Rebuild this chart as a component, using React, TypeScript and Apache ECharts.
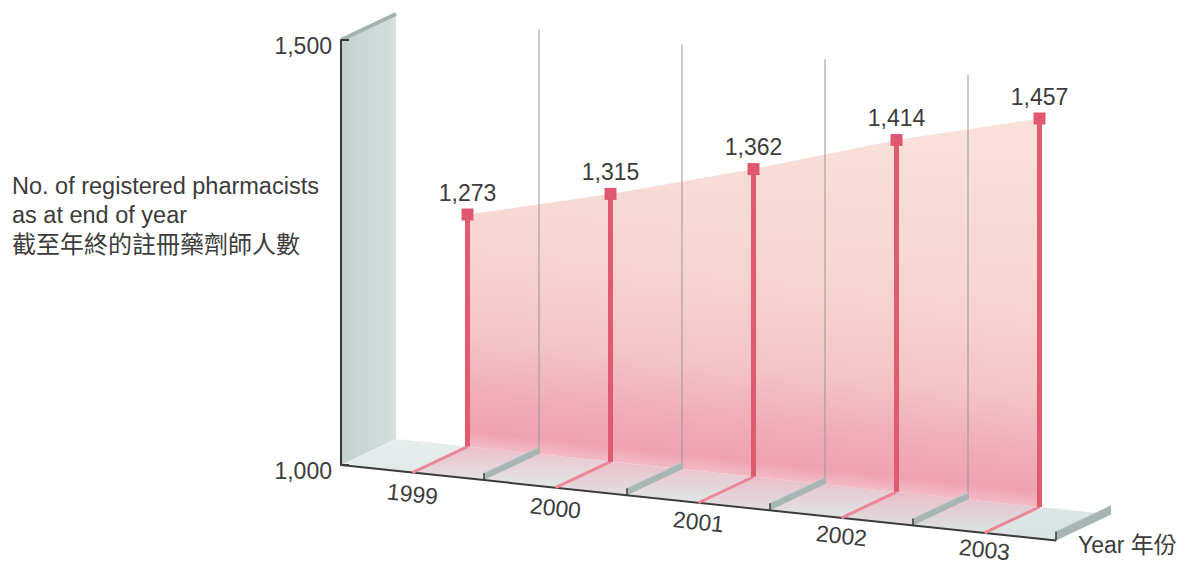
import React, { useEffect, useRef } from "react";
import * as echarts from "echarts";

// Registered pharmacists at the end of each year
const years = ["1999", "2000", "2001", "2002", "2003"];
const pharmacists = [1273, 1315, 1362, 1414, 1457];
const valueMin = 1000;
const valueMax = 1500;
const valueStep = 500;
const titleLines = ["No. of registered pharmacists", "as at end of year", "截至年終的註冊藥劑師人數"];
const titleSizes = [23.5, 23.5, 24];
const xAxisName = "Year 年份";

// Oblique projection: the floor runs downhill to the right and the back plane
// sits one "depth" step up and to the right of the front edge.
const SLOPE = 0.1056;
const DEPTH = [55, -26];

const LATIN = '"Liberation Sans", Arial, Helvetica, sans-serif';
const MIXED = '"Liberation Sans", Arial, "Noto Sans CJK TC", sans-serif';
const TEXT = "#3c3c3c";

const fmt = (n: number) => n.toLocaleString("en-US");

function projector(params: any, api: any) {
  const cs = params.coordSys;
  const L = cs.x;
  const shear = (x: number, y: number) => [x, y + SLOPE * (x - L)];
  const toBack = (p: number[]) => [p[0] + DEPTH[0], p[1] + DEPTH[1]];
  const front = (i: number, v: number) => {
    const c = api.coord([i, v]);
    return shear(c[0], c[1]);
  };
  const back = (i: number, v: number) => toBack(front(i, v));
  return { L, R: cs.x + cs.width, T: cs.y, B: cs.y + cs.height, shear, toBack, front, back };
}

const seg = (a: number[], b: number[], stroke: string, lineWidth: number) => ({
  type: "line",
  shape: { x1: a[0], y1: a[1], x2: b[0], y2: b[1] },
  style: { stroke, lineWidth },
});

const poly = (points: number[][], style: any) => ({ type: "polygon", shape: { points }, style });

function renderScene(params: any, api: any) {
  const { L, R, T, B, shear, toBack, front, back } = projector(params, api);
  const n = years.length;
  const kids: any[] = [];

  // left side wall
  const wTop = [L, T];
  const wBot = [L, B];
  kids.push(
    poly([wTop, toBack(wTop), toBack(wBot), wBot], {
      fill: new echarts.graphic.LinearGradient(0, 0, 1, 0, [
        { offset: 0, color: "#c2d1d0" },
        { offset: 1, color: "#d4dfde" },
      ]),
    })
  );
  kids.push(seg(wTop, toBack(wTop), "#a2b2b1", 4));

  // floor
  const fL = [L, B];
  const fR = shear(R, B);
  kids.push(
    poly([fL, fR, toBack(fR), toBack(fL)], {
      fill: new echarts.graphic.LinearGradient(0, 0, 0, 1, [
        { offset: 0, color: "#e6eded" },
        { offset: 1, color: "#d9e3e3" },
      ]),
    })
  );

  // pink glow on the floor beneath the panels
  for (let i = 0; i < n - 1; i++) {
    const a = front(i, valueMin);
    const b = front(i + 1, valueMin);
    kids.push(
      poly([toBack(a), toBack(b), b, a], {
        fill: new echarts.graphic.LinearGradient(0, 0, 0, 1, [
          { offset: 0, color: "rgba(240,160,178,0.6)" },
          { offset: 1, color: "rgba(240,160,178,0)" },
        ]),
      })
    );
  }

  // pink area on the back plane, shaded towards the floor
  const tops = pharmacists.map((v, i) => back(i, v));
  const b0 = back(0, valueMin);
  const bn = back(n - 1, valueMin);
  const xm = (b0[0] + bn[0]) / 2;
  const yb = b0[1] + SLOPE * (xm - b0[0]);
  const k = 380;
  kids.push(
    poly([...tops, bn, b0], {
      fill: new echarts.graphic.LinearGradient(
        xm + SLOPE * k,
        yb - k,
        xm,
        yb,
        [
          { offset: 0, color: "#f9e2da" },
          { offset: 0.45, color: "#f7d6d1" },
          { offset: 0.7, color: "#f4c6c7" },
          { offset: 0.88, color: "#f0aab7" },
          { offset: 0.96, color: "#efa2b2" },
          { offset: 1, color: "#f3bac5" },
        ],
        true
      ),
    })
  );

  // dividers between years: thin line on the back plane and a ridge on the floor
  const topY = api.coord([0, valueMax])[1];
  const bounds: number[] = [];
  for (let i = 1; i < n; i++) bounds.push((api.coord([i - 1, valueMin])[0] + api.coord([i, valueMin])[0]) / 2);
  bounds.forEach((xb) => {
    const fb = shear(xb, B);
    kids.push(seg(toBack(fb), toBack(shear(xb, topY)), "rgba(150,150,150,0.85)", 1.2));
  });
  [...bounds, R].forEach((xb, j) => {
    const h = j === bounds.length ? 9 : 7;
    const fb = shear(xb, B);
    const bb = toBack(fb);
    kids.push(poly([fb, bb, [bb[0], bb[1] - h], [fb[0], fb[1] - h]], { fill: "#a8b5b5" }));
    kids.push(seg([fb[0], fb[1] - h], [bb[0], bb[1] - h], "#c3cdcd", 1));
    kids.push(seg(fb, [fb[0], fb[1] - h], "#3a3a3a", 1.5));
  });

  // front edge of the floor
  kids.push(seg(fL, fR, "#3a3a3a", 2));

  return { type: "group", children: kids };
}

function renderStem(params: any, api: any) {
  const i = params.dataIndex;
  const v = api.value(1);
  const { front, toBack, back } = projector(params, api);
  const f = front(i, valueMin);
  const f0 = front(0, valueMin);
  const b = toBack(f);
  const t = back(i, v);
  const m = 12;
  return {
    type: "group",
    children: [
      seg(f, b, "#ec8698", 3),
      seg(b, t, "#e05a70", 5),
      {
        type: "rect",
        shape: { x: t[0] - m / 2, y: t[1] - m / 2, width: m, height: m },
        style: { fill: "#e05870" },
      },
      {
        type: "text",
        x: t[0],
        y: t[1] - 22,
        style: {
          text: fmt(v),
          align: "center",
          verticalAlign: "middle",
          fontSize: 23,
          fontFamily: LATIN,
          fill: TEXT,
        },
      },
      {
        type: "text",
        x: f[0],
        y: f[1] + 21.5 - 0.0085 * (f[0] - f0[0]),
        rotation: -Math.atan(SLOPE),
        style: {
          text: years[i],
          align: "center",
          verticalAlign: "middle",
          fontSize: 23,
          lineHeight: 17,
          fontFamily: LATIN,
          fill: TEXT,
        },
      },
    ],
  };
}

export default function App() {
  const ref = useRef<HTMLDivElement>(null);

  useEffect(() => {
    if (!ref.current) return;
    const chart = echarts.init(ref.current, null, { renderer: "svg" });
    chart.setOption({
      animation: false,
      backgroundColor: "#ffffff",
      grid: { left: 341, top: 40, width: 715, height: 425 },
      xAxis: {
        type: "category",
        data: years,
        axisLine: { show: false },
        axisTick: { show: false },
        axisLabel: { show: false },
        splitLine: { show: false },
      },
      yAxis: {
        type: "value",
        min: valueMin,
        max: valueMax,
        interval: valueStep,
        z: 10,
        axisLine: { show: true, lineStyle: { color: "#3a3a3a", width: 2 } },
        axisTick: { show: true, inside: true, length: 8, lineStyle: { color: "#3a3a3a", width: 2 } },
        axisLabel: {
          formatter: (v: number) => fmt(v),
          fontSize: 23,
          color: TEXT,
          fontFamily: LATIN,
          margin: 9,
          verticalAlign: "top",
          lineHeight: 11,
        },
        splitLine: { show: false },
      },
      graphic: [
        ...titleLines.map((t, i) => ({
          type: "text",
          left: 12,
          top: 174 + i * 29,
          style: { text: t, fontSize: titleSizes[i], fontFamily: MIXED, fill: TEXT },
        })),
        {
          type: "text",
          left: 1078,
          top: 533,
          style: { text: xAxisName, fontSize: 23, fontFamily: MIXED, fill: TEXT },
        },
      ],
      series: [
        {
          type: "custom",
          name: "scene",
          data: [[0, valueMin]],
          encode: { x: 0, y: 1 },
          renderItem: renderScene,
          silent: true,
        },
        {
          type: "custom",
          name: "No. of registered pharmacists",
          data: pharmacists.map((v, i) => [i, v]),
          encode: { x: 0, y: 1 },
          renderItem: renderStem,
        },
      ],
    });
    return () => chart.dispose();
  }, []);

  return (
    <div
      ref={ref}
      style={{ position: "fixed", left: 0, top: 0, width: 1198, height: 563, background: "#fff" }}
    />
  );
}
